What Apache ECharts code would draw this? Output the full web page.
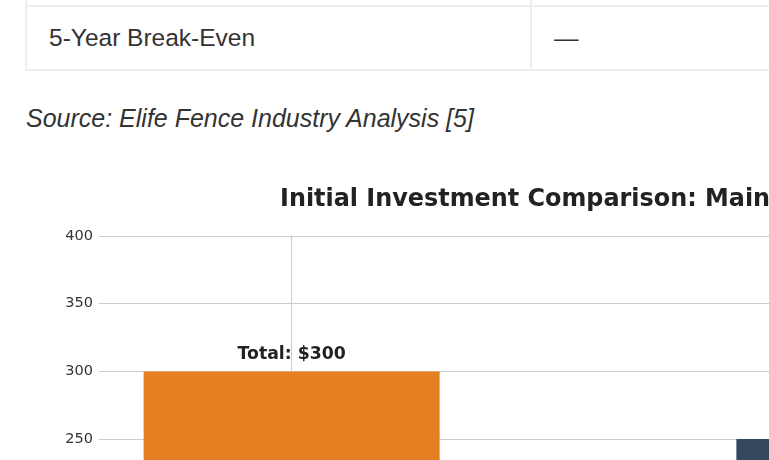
<!DOCTYPE html>
<html>
<head>
<meta charset="utf-8">
<script src="https://cdn.jsdelivr.net/npm/echarts@6/dist/echarts.min.js"></script>
<style>
  html, body { margin: 0; padding: 0; background: #fff; width: 769px; height: 460px; overflow: hidden; position: relative; }
  table { position: absolute; left: 25px; top: -59px; border-collapse: collapse; width: 1100px; font-family: "Liberation Sans", Arial, sans-serif; font-size: 24.5px; color: #333; }
  td { border: 2px solid #eeeeee; height: 62px; padding: 0 0 0 22px; vertical-align: middle; }
  td.c1 { width: 481px; }
  .source { position: absolute; left: 26px; top: 104px; font-family: "Liberation Sans", Arial, sans-serif; font-style: italic; font-size: 25px; color: #333; margin: 0; white-space: nowrap; }
  #chart { position: absolute; left: 0; top: 150px; width: 1200px; height: 700px; }
</style>
</head>
<body>
<table>
  <tr><td class="c1"></td><td></td></tr>
  <tr><td class="c1">5-Year Break-Even</td><td>—</td></tr>
</table>
<p class="source">Source: Elife Fence Industry Analysis [5]</p>
<div id="chart"></div>
<script>
const chartTitle = "Initial Investment Comparison: Maintenance-Free vs Traditional Fencing";
const categories = ["Maintenance-Free", "Traditional"];
const totals = [300, 250];
const barColors = ["#E67E22", "#34495E"];
const yTicks = { min: 0, max: 400, step: 50 };

const chart = echarts.init(document.getElementById('chart'), null, { renderer: 'canvas' });
const dj = '"DejaVu Sans", sans-serif';
chart.setOption({
  animation: false,
  title: {
    text: chartTitle,
    left: 275, top: 33,
    textStyle: { fontFamily: dj, fontWeight: 'bold', fontSize: 23.9, color: '#222' }
  },
  grid: { left: 99, top: 86, width: 978, height: 541.6, containLabel: false },
  xAxis: {
    type: 'value', min: -0.325, max: 1.325,
    axisLine: { show: false }, axisTick: { show: false }, axisLabel: { show: false },
    splitLine: { show: false }
  },
  yAxis: {
    type: 'value', min: yTicks.min, max: yTicks.max, interval: yTicks.step,
    axisLine: { show: true, lineStyle: { color: '#cccccc', width: 1 } },
    axisTick: { show: false },
    axisLabel: { margin: 6, fontFamily: dj, fontSize: 14.5, color: '#333' },
    splitLine: { show: true, lineStyle: { color: '#cccccc', width: 1 } }
  },
  series: [
    {
      type: 'line', data: [], z: 1, silent: true,
      markLine: {
        z: 1, silent: true, symbol: 'none', label: { show: false },
        lineStyle: { color: '#cccccc', width: 1, type: 'solid' },
        data: categories.map((c, i) => ({ xAxis: i }))
      }
    },
    {
      type: 'bar', z: 3, barWidth: 296,
      data: totals.map((v, i) => ({ value: [i, v], itemStyle: { color: barColors[i] } })),
      label: {
        show: true, position: 'top', distance: 8,
        formatter: p => 'Total: $' + p.value[1],
        fontFamily: dj, fontWeight: 'bold', fontSize: 17.3, color: '#222'
      }
    }
  ]
});
</script>
</body>
</html>
